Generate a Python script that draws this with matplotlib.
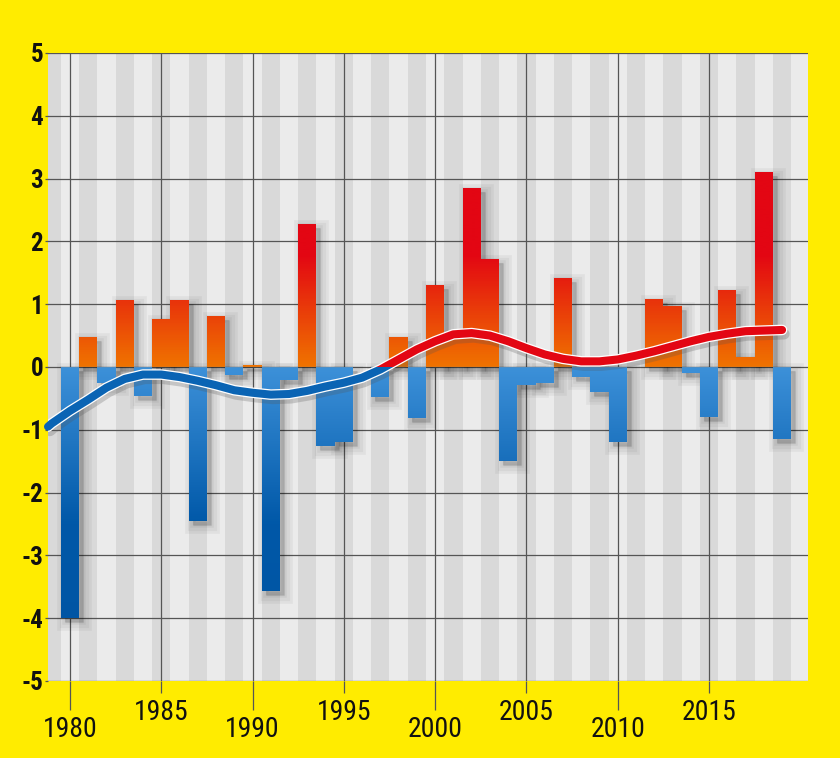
import matplotlib
matplotlib.use('Agg')
import matplotlib.pyplot as plt
import numpy as np
from matplotlib import font_manager
from matplotlib.path import Path
from matplotlib.colors import LinearSegmentedColormap
from matplotlib.transforms import offset_copy
from matplotlib.patches import Rectangle

# ---------------- data ----------------
years = list(range(1980, 2020))
values = [-4.00, 0.47, -0.25, 1.06, -0.46, 0.77, 1.06, -2.46, 0.82, -0.13,
          0.03, -3.57, -0.20, 2.28, -1.26, -1.20, 0.00, -0.47, 0.48, -0.82,
          1.31, 0.45, 2.85, 1.72, -1.50, -0.29, -0.25, 1.42, -0.16, -0.40,
          -1.19, 0.00, 1.09, 0.97, -0.10, -0.80, 1.23, 0.16, 3.10, -1.15]

trend_years = [1978.8] + list(range(1979, 2020))
trend_values = [-0.95,
                -0.90, -0.70, -0.52, -0.33, -0.19, -0.12, -0.12, -0.16, -0.22, -0.29,
                -0.37, -0.41, -0.44, -0.43, -0.38, -0.31, -0.25, -0.17, -0.04, 0.12,
                0.28, 0.41, 0.52, 0.54, 0.50, 0.41, 0.30, 0.20, 0.13, 0.09,
                0.09, 0.12, 0.18, 0.25, 0.33, 0.41, 0.48, 0.53, 0.57, 0.58,
                0.59]

low_ticks = [1980, 1990, 2000, 2010]
high_ticks = [1985, 1995, 2005, 2015]
y_ticks = list(range(-5, 6))
y_tick_labels = [str(v) for v in y_ticks]

# ---------------- style ----------------
YELLOW = '#ffec00'
GRID = '#555555'
XMIN, XMAX = 1978.8, 2020.42
YMIN, YMAX = -5, 5


def pick_font(names):
    for n in names:
        try:
            font_manager.findfont(font_manager.FontProperties(family=n), fallback_to_default=False)
            return n
        except Exception:
            continue
    return 'DejaVu Sans'


FONT = pick_font(['Liberation Sans Narrow', 'Roboto Condensed', 'DejaVu Sans Condensed', 'Liberation Sans'])

fig = plt.figure(figsize=(8.4, 7.58), dpi=100, facecolor=YELLOW)
ax = fig.add_axes([48 / 840, 1 - 681 / 758, 760 / 840, 628 / 758])
ax.set_facecolor('#ebebeb')
for s in ax.spines.values():
    s.set_visible(False)

# background stripes (odd years darker)
for yr in range(1979, 2021, 2):
    ax.axvspan(yr - 0.5, yr + 0.5, color='#d9d9d9', lw=0, zorder=0.1)

# grid
ax.set_axisbelow(True)
ax.set_yticks(y_ticks)
ax.set_yticklabels(y_tick_labels)
ax.set_xticks(low_ticks)
ax.set_xticklabels([str(t) for t in low_ticks])
ax.set_xticks(high_ticks, minor=True)
ax.set_xticklabels([str(t) for t in high_ticks], minor=True)
ax.grid(True, which='both', color=GRID, lw=0.9)

ax.tick_params(axis='x', which='major', length=21, width=0.9, color=GRID, pad=4,
               labelsize=20, labelcolor='#111111')
ax.tick_params(axis='x', which='minor', length=8.6, width=0.9, color=GRID, pad=4,
               labelsize=20, labelcolor='#111111')
ax.tick_params(axis='y', length=2.5, width=0.9, color=GRID, pad=1,
               labelsize=18, labelcolor='#111111')
for lab in ax.get_xticklabels(which='both'):
    lab.set_family(FONT)
for lab in ax.get_yticklabels():
    lab.set_family(FONT)
    lab.set_fontweight('bold')

# bar shadows
nz_years = [y for y, v in zip(years, values) if abs(v) > 0.001]
nz_vals = [v for v in values if abs(v) > 0.001]
shadow_tr = offset_copy(ax.transData, fig=fig, x=4, y=-4, units='dots')
for lw in [12, 8, 4, 1]:
    ax.bar(nz_years, nz_vals, width=1.0, color=(0, 0, 0, 0.045),
           edgecolor=(0, 0, 0, 0.045), linewidth=lw, transform=shadow_tr, zorder=1.5)

# bars with gradient fill
bars = ax.bar(years, values, width=1.0, color='none', linewidth=0, zorder=2)
cmap = LinearSegmentedColormap.from_list('bars', [
    (0.0, '#0054a2'), (0.25, '#0058a8'), (0.4999, '#3d91d9'),
    (0.5, '#f07400'), (0.68, '#e30613'), (1.0, '#e30613')])
grad = np.linspace(YMIN, YMAX, 800).reshape(-1, 1)
im = ax.imshow(grad, extent=[XMIN, XMAX, YMIN, YMAX], origin='lower', aspect='auto',
               cmap=cmap, vmin=YMIN, vmax=YMAX, zorder=2, interpolation='bilinear')
paths = [p.get_path().transformed(p.get_patch_transform()) for p in bars.patches]
im.set_clip_path(Path.make_compound_path(*paths), ax.transData)

# trend line
line_shadow_tr = offset_copy(ax.transData, fig=fig, x=2, y=-4, units='dots')
ax.plot(trend_years, trend_values, color='#555555', alpha=0.25, lw=8,
        solid_capstyle='round', transform=line_shadow_tr, zorder=3)
ax.plot(trend_years, trend_values, color='white', lw=7.6, solid_capstyle='round',
        solid_joinstyle='round', zorder=4)
blue_line, = ax.plot(trend_years, trend_values, color='#0a64b4', lw=5.8,
                     solid_capstyle='round', solid_joinstyle='round', zorder=5)
red_line, = ax.plot(trend_years, trend_values, color='#e30613', lw=5.8,
                    solid_capstyle='round', solid_joinstyle='round', zorder=5)
blue_line.set_clip_path(Rectangle((XMIN - 1, YMIN), XMAX - XMIN + 2, 0 - YMIN, transform=ax.transData))
red_line.set_clip_path(Rectangle((XMIN - 1, 0), XMAX - XMIN + 2, YMAX, transform=ax.transData))

ax.set_xlim(XMIN, XMAX)
ax.set_ylim(YMIN, YMAX)

fig.savefig('out.png', dpi=100, facecolor=YELLOW)
